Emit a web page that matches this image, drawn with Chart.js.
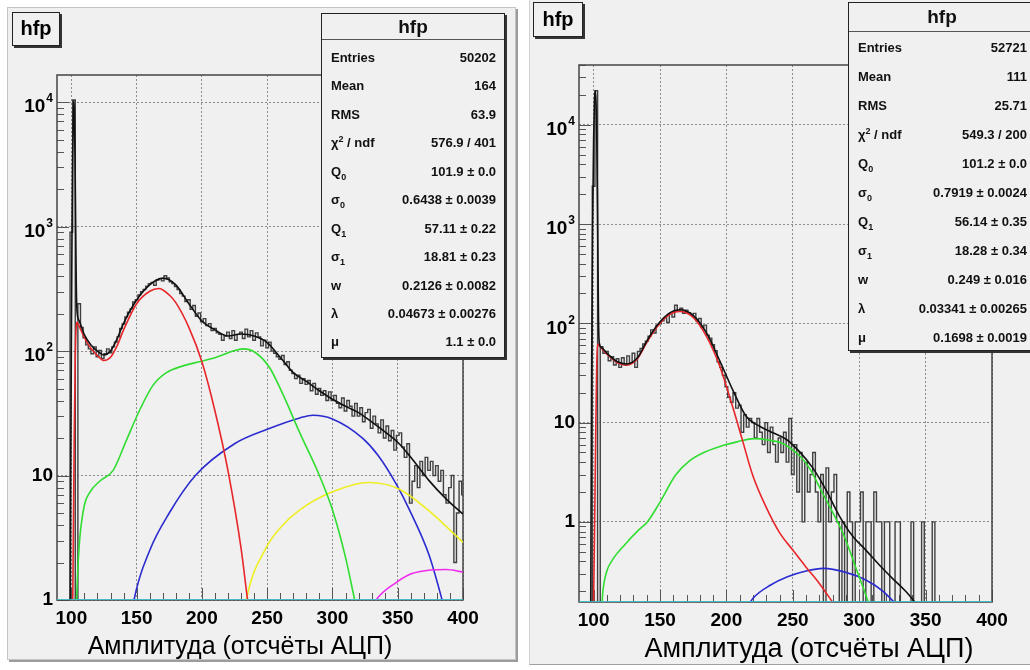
<!DOCTYPE html>
<html>
<head>
<meta charset="utf-8">
<script src="https://cdn.jsdelivr.net/npm/chart.js@4"></script>
<style>
  body { margin: 0; width: 1030px; height: 670px; overflow: hidden; background: #fff; position: relative; font-family: Arial, "Liberation Sans", sans-serif; }
  .pad { position: absolute; background: #f0f0f0; }
  #padL { left: 7px; top: 7px; width: 507px; height: 651px; border: 1px solid #c4c4c4; box-shadow: 2px 2px 0 #9c9c9c; }
  #padR { left: 529px; top: 0; width: 501px; height: 664px; border-left: 1px solid #d2d2d2; border-bottom: 1px solid #a0a0a0; }
  canvas { position: absolute; }
  #cL { left: 8px; top: 8px; }
  #cR { left: 530px; top: 0; }
  .hbox { position: absolute; background: #f0f0f0; border: 1px solid #222; box-shadow: 2px 2px 0 #333; font-weight: bold; font-size: 20px; text-align: center; z-index: 3; }
  .stats { position: absolute; background: #f0f0f0; border: 1px solid #222; box-shadow: 2px 2px 0 #333; font-weight: bold; font-size: 13px; color: #111; z-index: 3; }
  .stats .head { text-align: center; font-size: 19px; border-bottom: 1px solid #555; }
  .stats .row { display: flex; justify-content: space-between; padding: 0 8px 0 9px; }
  .stats sub, .stats sup { font-size: 9px; line-height: 0; }
  .axtitle { position: absolute; text-align: center; white-space: nowrap; color: #000; z-index: 3; }
</style>
</head>
<body>
<div class="pad" id="padL"></div>
<div class="pad" id="padR"></div>
<canvas id="cL" width="507" height="652"></canvas>
<canvas id="cR" width="500" height="665"></canvas>

<div class="hbox" style="left:12px;top:12px;width:46px;height:32px;line-height:31px;">hfp</div>
<div class="hbox" style="left:533px;top:2px;width:48px;height:33px;line-height:32px;">hfp</div>

<div class="stats" id="statL" style="left:321px;top:13px;width:182px;height:343px;"></div>
<div class="stats" id="statR" style="left:848px;top:2px;width:186px;height:347px;"></div>

<div class="axtitle" style="left:40px;top:630px;width:400px;font-size:25px;line-height:30px;">Амплитуда (отсчёты АЦП)</div>
<div class="axtitle" style="left:609px;top:632px;width:400px;font-size:27px;line-height:32px;">Амплитуда (отсчёты АЦП)</div>

<script>
// ---- stat box contents
const statNames = ['Entries', 'Mean', 'RMS', 'χ<sup>2</sup> / ndf', 'Q<sub>0</sub>', 'σ<sub>0</sub>', 'Q<sub>1</sub>', 'σ<sub>1</sub>', 'w', 'λ', 'μ'];
const statsLeft = ['50202', '164', '63.9', '576.9 / 401', '101.9 ± 0.0', '0.6438 ± 0.0039', '57.11 ± 0.22', '18.81 ± 0.23', '0.2126 ± 0.0082', '0.04673 ± 0.00276', '1.1 ± 0.0'];
const statsRight = ['52721', '111', '25.71', '549.3 / 200', '101.2 ± 0.0', '0.7919 ± 0.0024', '56.14 ± 0.35', '18.28 ± 0.34', '0.249 ± 0.016', '0.03341 ± 0.00265', '0.1698 ± 0.0019'];

// ---- histogram: 2-unit bins, centres 90..400
const binStart = 90, binWidth = 2;
const histLeft = [
  0.01, 0.01, 0.01, 0.01, 0.01,
  900, 10400, 0.01, 240, 155,
  128, 112, 104, 95, 108,
  90, 101, 87, 95, 104,
  97, 108, 118, 130, 152,
  165, 188, 205, 218, 248,
  258, 282, 300, 312, 332,
  348, 356, 338, 372, 382,
  366, 402, 386, 360, 348,
  330, 312, 290, 276, 250,
  258, 216, 232, 190, 202,
  172, 182, 160, 166, 146,
  152, 140, 136, 122, 132,
  142, 126, 146, 122, 136,
  142, 126, 150, 130, 146,
  122, 140, 130, 110, 122,
  106, 118, 100, 96, 90,
  86, 92, 78, 82, 70,
  66, 60, 64, 55, 60,
  54, 58, 48, 55, 45,
  50, 44, 48, 40, 47,
  40, 44, 38, 35, 42,
  33, 40, 36, 30, 38,
  30, 35, 27, 32, 34,
  24, 30, 26, 22, 28,
  20, 25, 19, 23, 16,
  21, 22, 17, 14, 18,
  6, 9, 12, 8, 13,
  10, 14, 11, 13, 10,
  12, 9, 11, 7, 6,
  8, 10, 2, 5, 9,
  7
];
const histRight = [
  0.01, 0.01, 0.01, 0.01, 0.01,
  2400, 22000, 0.01, 58, 50,
  52, 42, 46, 38, 44,
  36, 45, 38, 47, 40,
  50, 36, 52, 56, 62,
  66, 74, 86, 80, 96,
  99, 106, 114, 102, 126,
  116, 152, 132, 142, 126,
  136, 128, 121, 126, 106,
  112, 91, 96, 76, 71,
  61, 53, 41, 36, 30,
  23, 18, 16, 20, 14,
  15, 8, 12, 9, 11,
  10, 7, 11, 8, 6,
  10, 5, 9, 6, 4,
  7, 5, 8, 4, 11,
  3, 6, 2, 5, 1,
  4, 2, 3, 5, 2,
  1, 3, 0.01, 3.5, 1,
  2, 3, 1, 0.01, 1,
  0.01, 2, 1, 0.01, 1,
  1, 2, 0.01, 1, 1,
  0.01, 2, 1, 1, 0.01,
  1, 1, 0.01, 0.01, 1,
  1, 0.01, 0.01, 0.01, 0.01,
  1, 0.01, 0.01, 0.01, 1,
  0.01, 0.01, 0.01, 1, 0.01,
  0.01, 0.01, 0.01, 0.01, 0.01,
  0.01, 0.01, 0.01, 0.01, 0.01,
  0.01, 0.01, 0.01, 0.01, 0.01,
  0.01, 0.01, 0.01, 0.01, 0.01,
  0.01
];

// ---- fit curves, [x, y]
const totalLeft = [[99, 0.3], [99.5, 9], [100, 120], [100.5, 900], [101, 3700], [101.5, 8200], [101.9, 10300], [102.3, 8200], [102.8, 3700], [103.3, 1000], [103.8, 320], [104.4, 205], [106, 175], [110, 135], [115, 112], [120, 100], [125, 93], [130, 100], [135, 125], [140, 167], [150, 257], [160, 340], [170, 385], [180, 340], [190, 240], [200, 174], [210, 148], [220, 132], [230, 137], [240, 132], [250, 117], [260, 89], [270, 67], [280, 57], [290, 48], [300, 41], [310, 36], [320, 32], [330, 27], [340, 22.5], [350, 18.5], [360, 14], [374, 9.1], [387, 6.5], [400, 4.9]];
const redLeft = [[100.8, 0.5], [101.5, 3], [102.2, 20], [103, 90], [103.8, 160], [104.4, 170], [106, 158], [110, 128], [115, 105], [120, 92], [125, 84], [130, 89], [135, 110], [140, 148], [150, 240], [160, 302], [167, 318], [175, 282], [180, 245], [190, 155], [200, 82], [210, 33], [220, 10.9], [230, 2.6], [235, 1.0], [238, 0.6]];
const greenLeft = [[103.3, 0.5], [104, 1.0], [105, 1.8], [106.4, 3.1], [110, 5.8], [114, 7.3], [121.7, 9], [132, 11], [142, 19], [152, 33], [162.5, 53], [172.8, 67], [185.5, 76], [198, 82], [211, 89], [224, 100], [231.5, 104], [241.7, 96], [252, 73], [262, 45], [275, 22], [290, 10], [300, 5.3], [310, 2.2], [317, 1], [320, 0.7]];
const blueLeft = [[145, 0.6], [148, 1], [160, 2.5], [175, 5], [195, 10], [225, 18], [250, 23.5], [275, 29], [285, 30.5], [300, 28.5], [323, 20], [335, 14.5], [349, 8.5], [359, 5.3], [374, 2.3], [384, 1], [387, 0.75]];
const yellowLeft = [[231, 0.6], [234, 1], [249, 2.6], [262, 4.0], [275, 5.3], [300, 7.4], [328, 8.8], [351, 7.8], [374, 5.2], [400, 2.9]];
const magentaLeft = [[330, 0.85], [333.4, 1], [348.7, 1.38], [361, 1.63], [375, 1.74], [387, 1.76], [400, 1.68]];

const totalRight = [[97.8, 0.1], [98.5, 30], [99.2, 800], [100, 7000], [100.6, 17000], [101.2, 22000], [101.8, 17000], [102.4, 7000], [103.1, 800], [103.7, 110], [104.3, 63], [106, 57], [110, 50], [118, 41], [125, 39], [133, 45], [140, 66], [148, 96], [156, 124], [165, 137], [175, 120], [185, 80], [195, 42], [205, 21], [215, 11.5], [225, 9.2], [235, 7.9], [245, 6.8], [255, 5.1], [265, 3.5], [275, 2.1], [285, 1.15], [295, 0.72], [305, 0.52], [315, 0.37], [325, 0.27], [335, 0.2], [342, 0.155], [346, 0.13]];
const redRight = [[99.8, 0.1], [100.8, 1], [101.7, 10], [102.4, 40], [103, 62], [104, 60], [106, 56], [110, 49], [118, 40], [125, 38], [133, 44], [140, 64], [148, 93], [156, 120], [165, 132], [175, 115], [185, 74], [195, 37], [205, 14], [212, 6.7], [220, 2.9], [230, 1.4], [240, 0.78], [250, 0.52], [260, 0.35], [270, 0.24], [280, 0.155], [284, 0.13]];
const greenRight = [[105.5, 0.1], [107, 0.2], [110, 0.32], [114, 0.41], [124, 0.6], [134, 0.83], [140.5, 1.0], [149, 1.5], [162, 3.0], [172, 4.1], [183, 5.0], [196, 5.8], [208, 6.4], [221, 6.9], [231, 6.7], [243, 6.1], [256, 4.5], [263, 3.4], [272, 2.0], [280, 1.25], [288, 0.76], [298, 0.33], [304, 0.2], [308, 0.14]];
const blueRight = [[216, 0.14], [220, 0.17], [233, 0.23], [246, 0.28], [260, 0.32], [273, 0.34], [290, 0.31], [305, 0.26], [318, 0.2], [326, 0.157], [330, 0.14]];

const xMin = 89, xMax = 400;
const xTicks = [100, 110, 120, 130, 140, 150, 160, 170, 180, 190, 200, 210, 220, 230, 240, 250, 260, 270, 280, 290, 300, 310, 320, 330, 340, 350, 360, 370, 380, 390, 400];

// ---- stat boxes
function fillStats(id, values, headH, rowH, padTop) {
  let html = `<div class="head" style="height:${headH}px;line-height:${headH}px;">hfp</div><div style="padding-top:${padTop}px">`;
  statNames.forEach((n, i) => {
    html += `<div class="row" style="height:${rowH}px;line-height:${rowH}px;"><span>${n}</span><span>${values[i]}</span></div>`;
  });
  document.getElementById(id).innerHTML = html + '</div>';
}
fillStats('statL', statsLeft, 25, 28.45, 4);
fillStats('statR', statsRight, 28, 29, 1);

// ---- chart helpers
function isDecade(v) {
  const l = Math.log10(v);
  return Math.abs(l - Math.round(l)) < 1e-6;
}

const rootAxes = {
  id: 'rootAxes',
  beforeDatasetsDraw(chart) {
    const { ctx, chartArea: a, scales: { x, y } } = chart;
    ctx.save();
    ctx.strokeStyle = '#555';
    ctx.lineWidth = 1;
    ctx.beginPath();
    x.ticks.forEach(t => {
      const px = Math.round(x.getPixelForValue(t.value)) + 0.5;
      const len = t.value % 50 === 0 ? 12 : 7;
      ctx.moveTo(px, a.bottom);
      ctx.lineTo(px, a.bottom - len);
    });
    y.ticks.forEach(t => {
      const py = Math.round(y.getPixelForValue(t.value)) + 0.5;
      const len = isDecade(t.value) ? 12 : 7;
      ctx.moveTo(a.left, py);
      ctx.lineTo(a.left + len, py);
    });
    ctx.stroke();
    ctx.lineWidth = 1.5;
    ctx.strokeStyle = '#444';
    ctx.strokeRect(a.left, a.top, a.right - a.left, a.bottom - a.top);
    ctx.restore();
  },
  afterDraw(chart) {
    const { ctx, chartArea: a, scales: { y } } = chart;
    ctx.save();
    ctx.fillStyle = '#000';
    ctx.textAlign = 'right';
    ctx.textBaseline = 'middle';
    const xr = a.left - 4;
    y.ticks.filter(t => isDecade(t.value) && t.value >= 1).forEach(t => {
      const e = Math.round(Math.log10(t.value));
      const py = y.getPixelForValue(t.value);
      if (e <= 1) {
        ctx.font = 'bold 19px Arial';
        ctx.fillText(e === 0 ? '1' : '10', xr, py);
      } else {
        ctx.font = 'bold 12px Arial';
        const s = String(e);
        const w = ctx.measureText(s).width;
        ctx.fillText(s, xr, py - 3);
        ctx.font = 'bold 19px Arial';
        ctx.fillText('10', xr - w - 1, py + 5);
      }
    });
    ctx.restore();
  }
};

function curve(pts, color, order) {
  return {
    data: pts.map(p => ({ x: p[0], y: p[1] })),
    borderColor: color, borderWidth: 1.6, pointRadius: 0,
    cubicInterpolationMode: 'monotone', fill: false, order: order
  };
}

function histo(values) {
  return {
    data: values.map((v, i) => ({ x: binStart + i * binWidth, y: v })),
    borderColor: '#404040', borderWidth: 1.4, pointRadius: 0,
    stepped: 'middle', fill: false, order: 9
  };
}

function makeChart(id, datasets, yMin, yMax, pad, xHeight) {
  const ctx = document.getElementById(id).getContext('2d');
  return new Chart(ctx, {
    type: 'line',
    data: { datasets: datasets },
    options: {
      responsive: false,
      animation: false,
      devicePixelRatio: 1,
      layout: { padding: pad },
      plugins: { legend: { display: false }, tooltip: { enabled: false } },
      scales: {
        x: {
          type: 'linear', min: xMin, max: xMax,
          afterBuildTicks: s => { s.ticks = xTicks.map(v => ({ value: v })); },
          afterFit: s => { s.height = xHeight; },
          grid: {
            drawTicks: false,
            color: c => (c.tick && c.tick.value % 50 === 0) ? '#8c8c8c' : 'rgba(0,0,0,0)',
            lineWidth: 1
          },
          border: { display: false, dash: [2, 2] },
          ticks: {
            autoSkip: false, maxRotation: 0, padding: 7, color: '#000',
            font: { family: 'Arial', size: 19, weight: 'bold' },
            callback: v => v % 50 === 0 ? String(v) : ''
          }
        },
        y: {
          type: 'logarithmic', min: yMin, max: yMax,
          afterBuildTicks: s => {
            const t = [];
            for (let d = -1; d <= 4; d++) {
              for (let m = 1; m <= 9; m++) {
                const v = m * Math.pow(10, d);
                if (v >= s.min && v <= s.max) t.push({ value: v });
              }
            }
            s.ticks = t;
          },
          afterFit: s => { s.width = 49; },
          grid: {
            drawTicks: false,
            color: c => (c.tick && isDecade(c.tick.value)) ? '#8c8c8c' : 'rgba(0,0,0,0)',
            lineWidth: 1
          },
          border: { display: false, dash: [2, 2] },
          ticks: { display: false }
        }
      }
    },
    plugins: [rootAxes]
  });
}

makeChart('cL', [
  histo(histLeft),
  curve(blueLeft, '#2b2bd0', 6),
  curve(yellowLeft, '#eeee22', 5),
  curve(magentaLeft, '#ee2cee', 4),
  curve(greenLeft, '#30dd30', 3),
  curve(redLeft, '#e8262a', 2),
  curve(totalLeft, '#111111', 1),
  curve([[xMin, 1], [xMax, 1]], '#3cd4e4', 0)
], 1, 16500, { left: 0, top: 67, right: 52, bottom: 0 }, 60);

makeChart('cR', [
  histo(histRight),
  curve(blueRight, '#2b2bd0', 6),
  curve(greenRight, '#30dd30', 3),
  curve(redRight, '#e8262a', 2),
  curve(totalRight, '#111111', 1),
  curve([[xMin, 0.156], [xMax, 0.156]], '#3cd4e4', 0)
], 0.156, 40000, { left: 0, top: 65, right: 38, bottom: 0 }, 63);
</script>
</body>
</html>
